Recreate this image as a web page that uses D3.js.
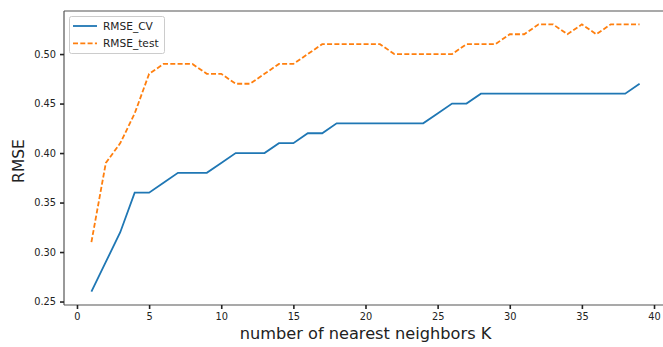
<!DOCTYPE html>
<html>
<head>
<meta charset="utf-8">
<script src="https://cdn.jsdelivr.net/npm/d3@7"></script>
<style>
  html, body { margin: 0; padding: 0; background: #fff; }
  svg { display: block; }
  text { font-family: "DejaVu Sans", sans-serif; fill: #222; }
</style>
</head>
<body>
<svg id="chart" width="663" height="347"></svg>
<script>
// Number of nearest neighbours K
const kValues = d3.range(1, 40);
// Cross-validated RMSE for each K
const rmseCV = [0.26, 0.29, 0.32, 0.36, 0.36, 0.37, 0.38, 0.38, 0.38, 0.39,
                0.40, 0.40, 0.40, 0.41, 0.41, 0.42, 0.42, 0.43, 0.43, 0.43,
                0.43, 0.43, 0.43, 0.43, 0.44, 0.45, 0.45, 0.46, 0.46, 0.46,
                0.46, 0.46, 0.46, 0.46, 0.46, 0.46, 0.46, 0.46, 0.47];
// Test-set RMSE for each K
const rmseTest = [0.31, 0.39, 0.41, 0.44, 0.48, 0.49, 0.49, 0.49, 0.48, 0.48,
                  0.47, 0.47, 0.48, 0.49, 0.49, 0.50, 0.51, 0.51, 0.51, 0.51,
                  0.51, 0.50, 0.50, 0.50, 0.50, 0.50, 0.51, 0.51, 0.51, 0.52,
                  0.52, 0.53, 0.53, 0.52, 0.53, 0.52, 0.53, 0.53, 0.53];
const xTicks = [0, 5, 10, 15, 20, 25, 30, 35, 40];
const yTicks = [0.25, 0.30, 0.35, 0.40, 0.45, 0.50];
const seriesNames = ["RMSE_CV", "RMSE_test"];

const svg = d3.select("#chart");
const plotLeft = 64, plotTop = 11, plotBottom = 305, plotRight = 667;

const x = d3.scaleLinear().domain([-0.9, 40.9]).range([plotLeft, plotRight]);
const y = d3.scaleLinear().domain([0.2465, 0.5435]).range([plotBottom, plotTop]);

// Frame
const spine = "#555";
svg.append("line").attr("x1", plotLeft).attr("x2", plotRight).attr("y1", plotTop).attr("y2", plotTop)
  .attr("stroke", spine).attr("stroke-width", 1.2);
svg.append("line").attr("x1", plotRight).attr("x2", plotRight).attr("y1", plotTop).attr("y2", plotBottom)
  .attr("stroke", spine).attr("stroke-width", 1.2);

// Axes
const xAxis = svg.append("g").attr("transform", `translate(0,${plotBottom})`)
  .call(d3.axisBottom(x).tickValues(xTicks).tickSize(4).tickPadding(4).tickFormat(d3.format("d")));
const yAxis = svg.append("g").attr("transform", `translate(${plotLeft},0)`)
  .call(d3.axisLeft(y).tickValues(yTicks).tickSize(4).tickPadding(4).tickFormat(d3.format(".2f")));
[xAxis, yAxis].forEach(g => {
  g.select(".domain").attr("stroke", spine).attr("stroke-width", 1.2);
  g.selectAll(".tick line").attr("stroke", "#222").attr("stroke-width", 1.6);
  g.selectAll(".tick text").attr("font-size", 9.8).attr("fill", "#333")
    .style("font-family", "'DejaVu Sans', sans-serif");
});
xAxis.select(".domain").attr("d", `M${plotLeft},0H${plotRight}`);
yAxis.select(".domain").attr("d", `M0,${plotTop}V${plotBottom}`);

// Axis titles
svg.append("text").attr("x", 365.5).attr("y", 339).attr("text-anchor", "middle")
  .attr("font-size", 16.2).text("number of nearest neighbors K");
svg.append("text").attr("transform", "translate(24,161) rotate(-90)")
  .attr("text-anchor", "middle").attr("font-size", 15.5).text("RMSE");

// Lines
const line = d3.line().x((d, i) => x(kValues[i])).y(d => y(d));
svg.append("path").datum(rmseCV).attr("d", line).attr("fill", "none")
  .attr("stroke", "#1f77b4").attr("stroke-width", 1.8);
svg.append("path").datum(rmseTest).attr("d", line).attr("fill", "none")
  .attr("stroke", "#ff7f0e").attr("stroke-width", 1.8).attr("stroke-dasharray", "5,2.3");

// Legend
const lg = svg.append("g");
lg.append("rect").attr("x", 69.5).attr("y", 16.5).attr("width", 95).attr("height", 37)
  .attr("rx", 2).attr("fill", "#fff").attr("stroke", "#ccc").attr("stroke-width", 1);
const legendColors = ["#1f77b4", "#ff7f0e"];
const legendDash = [null, "5,2.3"];
seriesNames.forEach((name, i) => {
  const ly = 26 + i * 17.3;
  lg.append("line").attr("x1", 73).attr("x2", 97).attr("y1", ly).attr("y2", ly)
    .attr("stroke", legendColors[i]).attr("stroke-width", 1.8)
    .attr("stroke-dasharray", legendDash[i]);
  lg.append("text").attr("x", 103).attr("y", ly + 3.7).attr("font-size", 10.6)
    .attr("fill", "#333").text(name);
});
</script>
</body>
</html>
